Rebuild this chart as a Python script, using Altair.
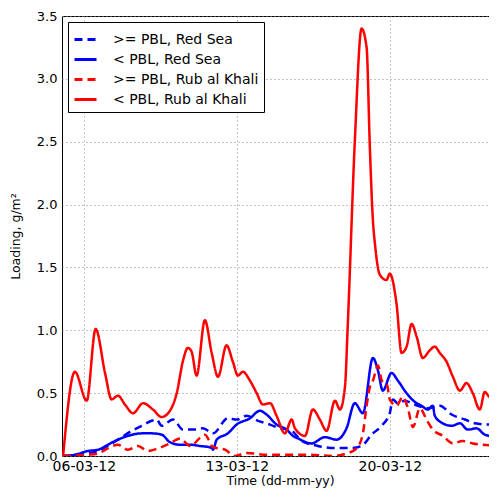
import altair as alt
import pandas as pd

# day offsets from 2012-03-05 00:00 and loading values (g/m2)
rs_solid_day = [0.05, 0.59, 1.19, 1.65, 2.10, 2.56, 3.02, 3.65, 4.10, 4.56, 4.94, 5.40, 5.86, 6.31,
                6.85, 6.91, 7.08, 7.59, 7.99, 8.60, 9.06, 9.36, 9.82, 10.28, 10.57, 10.80, 11.42,
                12.03, 12.57, 13.02, 13.40, 13.77, 14.23, 14.46, 14.68, 15.08, 15.37, 15.77, 16.15,
                16.45, 16.74, 16.97, 17.06, 17.43, 17.83, 18.21, 18.57, 18.97, 19.35, 19.66, 19.90]
rs_solid_val = [0.0, 0.01, 0.04, 0.05, 0.09, 0.13, 0.16, 0.18, 0.18, 0.17, 0.11, 0.09, 0.09, 0.08,
                0.065, 0.05, 0.13, 0.18, 0.25, 0.30, 0.36, 0.33, 0.25, 0.21, 0.16, 0.14, 0.10,
                0.15, 0.13, 0.22, 0.42, 0.34, 0.78, 0.68, 0.52, 0.66, 0.60, 0.50, 0.43,
                0.40, 0.37, 0.40, 0.32, 0.26, 0.24, 0.26, 0.21, 0.22, 0.17, 0.16, 0.16]

rs_dash_day = [0.05, 1.65, 2.10, 2.56, 3.19, 3.65, 4.10, 4.33, 4.56, 5.08, 5.54, 6.08, 6.45, 6.91,
               7.59, 7.99, 8.45, 8.97, 9.52, 9.97, 10.43, 10.97, 11.71, 12.49, 13.25, 13.71, 14.17,
               14.62, 15.00, 15.14, 15.37, 15.69, 16.00, 16.29, 16.74, 17.29, 17.83, 18.44, 18.89,
               19.49, 19.90]
rs_dash_val = [0.0, 0.04, 0.08, 0.13, 0.20, 0.24, 0.28, 0.29, 0.24, 0.29, 0.21, 0.21, 0.22, 0.18,
               0.30, 0.29, 0.32, 0.28, 0.25, 0.22, 0.21, 0.12, 0.08, 0.063, 0.063, 0.08, 0.17,
               0.24, 0.34, 0.45, 0.42, 0.44, 0.42, 0.40, 0.38, 0.40, 0.33, 0.29, 0.26,
               0.25, 0.25]

ra_dash_day = [0.05, 1.19, 1.65, 2.10, 2.56, 3.02, 3.48, 3.93, 4.39, 4.94, 5.40, 5.86, 6.54, 6.91,
               7.46, 7.91, 8.45, 9.36, 10.43, 11.34, 12.40, 13.02, 13.48, 13.77, 13.94, 14.09,
               14.23, 14.46, 14.64, 14.87, 15.00, 15.31, 15.60, 15.83, 16.06, 16.38, 16.68, 16.97,
               17.43, 17.89, 18.34, 18.80, 19.26, 19.90]
ra_dash_val = [0.0, 0.01, 0.02, 0.06, 0.09, 0.05, 0.08, 0.04, 0.06, 0.10, 0.14, 0.08, 0.17, 0.07,
               0.05, 0.0, 0.024, 0.01, 0.01, 0.01, 0.0, 0.02, 0.06, 0.18, 0.40, 0.55,
               0.60, 0.72, 0.60, 0.57, 0.45, 0.40, 0.47, 0.38, 0.23, 0.38, 0.29, 0.21,
               0.16, 0.10, 0.12, 0.10, 0.09, 0.08]

ra_solid_day = [0.05, 0.59, 1.13, 1.54, 1.97, 2.27, 2.56, 2.88, 3.25, 3.71, 4.16, 4.56, 4.94, 5.25,
                5.54, 5.76, 5.93, 6.16, 6.54, 6.85, 7.14, 7.53, 7.82, 8.05, 8.28, 8.60, 8.91, 9.19,
                9.52, 9.82, 10.20, 10.51, 10.66, 11.12, 11.48, 11.80, 12.11, 12.49, 12.72, 12.95,
                13.08, 13.40, 13.71, 13.94, 14.09, 14.23, 14.32, 14.55, 14.85, 15.00, 15.31, 15.54,
                15.77, 16.00, 16.23, 16.51, 16.83, 17.06, 17.29, 17.60, 17.89, 18.21, 18.51, 18.80,
                19.12, 19.35, 19.58, 19.89]
ra_solid_val = [0.0, 0.67, 0.44, 1.01, 0.66, 0.45, 0.48, 0.41, 0.34, 0.42, 0.37, 0.31, 0.36, 0.50,
                0.76, 0.86, 0.83, 0.64, 1.08, 0.82, 0.63, 0.88, 0.75, 0.64, 0.67, 0.60, 0.50, 0.41,
                0.42, 0.32, 0.18, 0.29, 0.22, 0.16, 0.37, 0.29, 0.20, 0.44, 0.37, 0.55,
                1.05, 2.50, 3.40, 3.25, 2.45, 1.87, 1.69, 1.44, 1.40, 1.45, 1.21, 0.82,
                0.87, 1.05, 0.95, 0.78, 0.84, 0.87, 0.82, 0.75, 0.63, 0.52, 0.58, 0.50,
                0.37, 0.51, 0.47, 0.51]

series_names = [">= PBL, Red Sea", "< PBL, Red Sea", ">= PBL, Rub al Khali", "< PBL, Rub al Khali"]
series_colors = ["#0000ff", "#0000ff", "#ff0000", "#ff0000"]
series_dashes = [[8, 5], [1, 0], [8, 5], [1, 0]]
y_ticks = [0.0, 0.5, 1.0, 1.5, 2.0, 2.5, 3.0, 3.5]

base = pd.Timestamp("2012-03-05")
rows = []
for name, days, vals in [
    (series_names[0], rs_dash_day, rs_dash_val),
    (series_names[1], rs_solid_day, rs_solid_val),
    (series_names[2], ra_dash_day, ra_dash_val),
    (series_names[3], ra_solid_day, ra_solid_val),
]:
    for d, v in zip(days, vals):
        t = base + pd.Timedelta(days=d)
        rows.append({"series": name, "time": t.strftime("%Y-%m-%dT%H:%M:%S"), "value": v})
df = pd.DataFrame(rows)

FONT = "DejaVu Sans"

legend = alt.Legend(
    title=None, orient="none", legendX=6, legendY=6,
    strokeColor="black", fillColor="white", padding=5,
    symbolType="stroke", symbolSize=484, symbolStrokeWidth=3,
    labelFontSize=14, labelFont=FONT, labelColor="black", labelOffset=15,
    rowPadding=-2,
)

chart = alt.Chart(df).mark_line(
    strokeWidth=2.5, clip=True, strokeJoin="round", interpolate="monotone"
).encode(
    x=alt.X(
        "time:T",
        scale=alt.Scale(domain=[alt.DateTime(year=2012, month=3, date=5),
                                alt.DateTime(year=2012, month=3, date=24, hours=13)]),
        axis=alt.Axis(
            values=[alt.DateTime(year=2012, month=3, date=6),
                    alt.DateTime(year=2012, month=3, date=13),
                    alt.DateTime(year=2012, month=3, date=20)],
            format="%d-%m-%y", title="Time (dd-mm-yy)",
            labelFlush=False, labelPadding=3, ticks=False, domain=False,
            labelFontSize=14, titlePadding=1, titleX=218,
        ),
    ),
    y=alt.Y(
        "value:Q",
        scale=alt.Scale(domain=[0, 3.5], nice=False),
        axis=alt.Axis(values=y_ticks, format=".1f", title="Loading, g/m²",
                      labelPadding=5, ticks=False, domain=False, titlePadding=14),
    ),
    color=alt.Color("series:N", scale=alt.Scale(domain=series_names, range=series_colors), legend=legend),
    strokeDash=alt.StrokeDash("series:N", scale=alt.Scale(domain=series_names, range=series_dashes), legend=legend),
).properties(
    width=427, height=440,
    padding={"left": 54, "top": 8, "right": 0, "bottom": 37},
    autosize=alt.AutoSizeParams(type="none"),
).configure_view(
    stroke="black", strokeWidth=1,
).configure_axis(
    labelFont=FONT, titleFont=FONT, labelFontSize=13, titleFontSize=12.5,
    labelColor="black", titleColor="black", titleFontWeight="normal",
    grid=True, gridColor="#888", gridDash=[1, 3], gridWidth=1,
)

chart.save("out.html", embed_options={"renderer": "svg", "actions": False})
